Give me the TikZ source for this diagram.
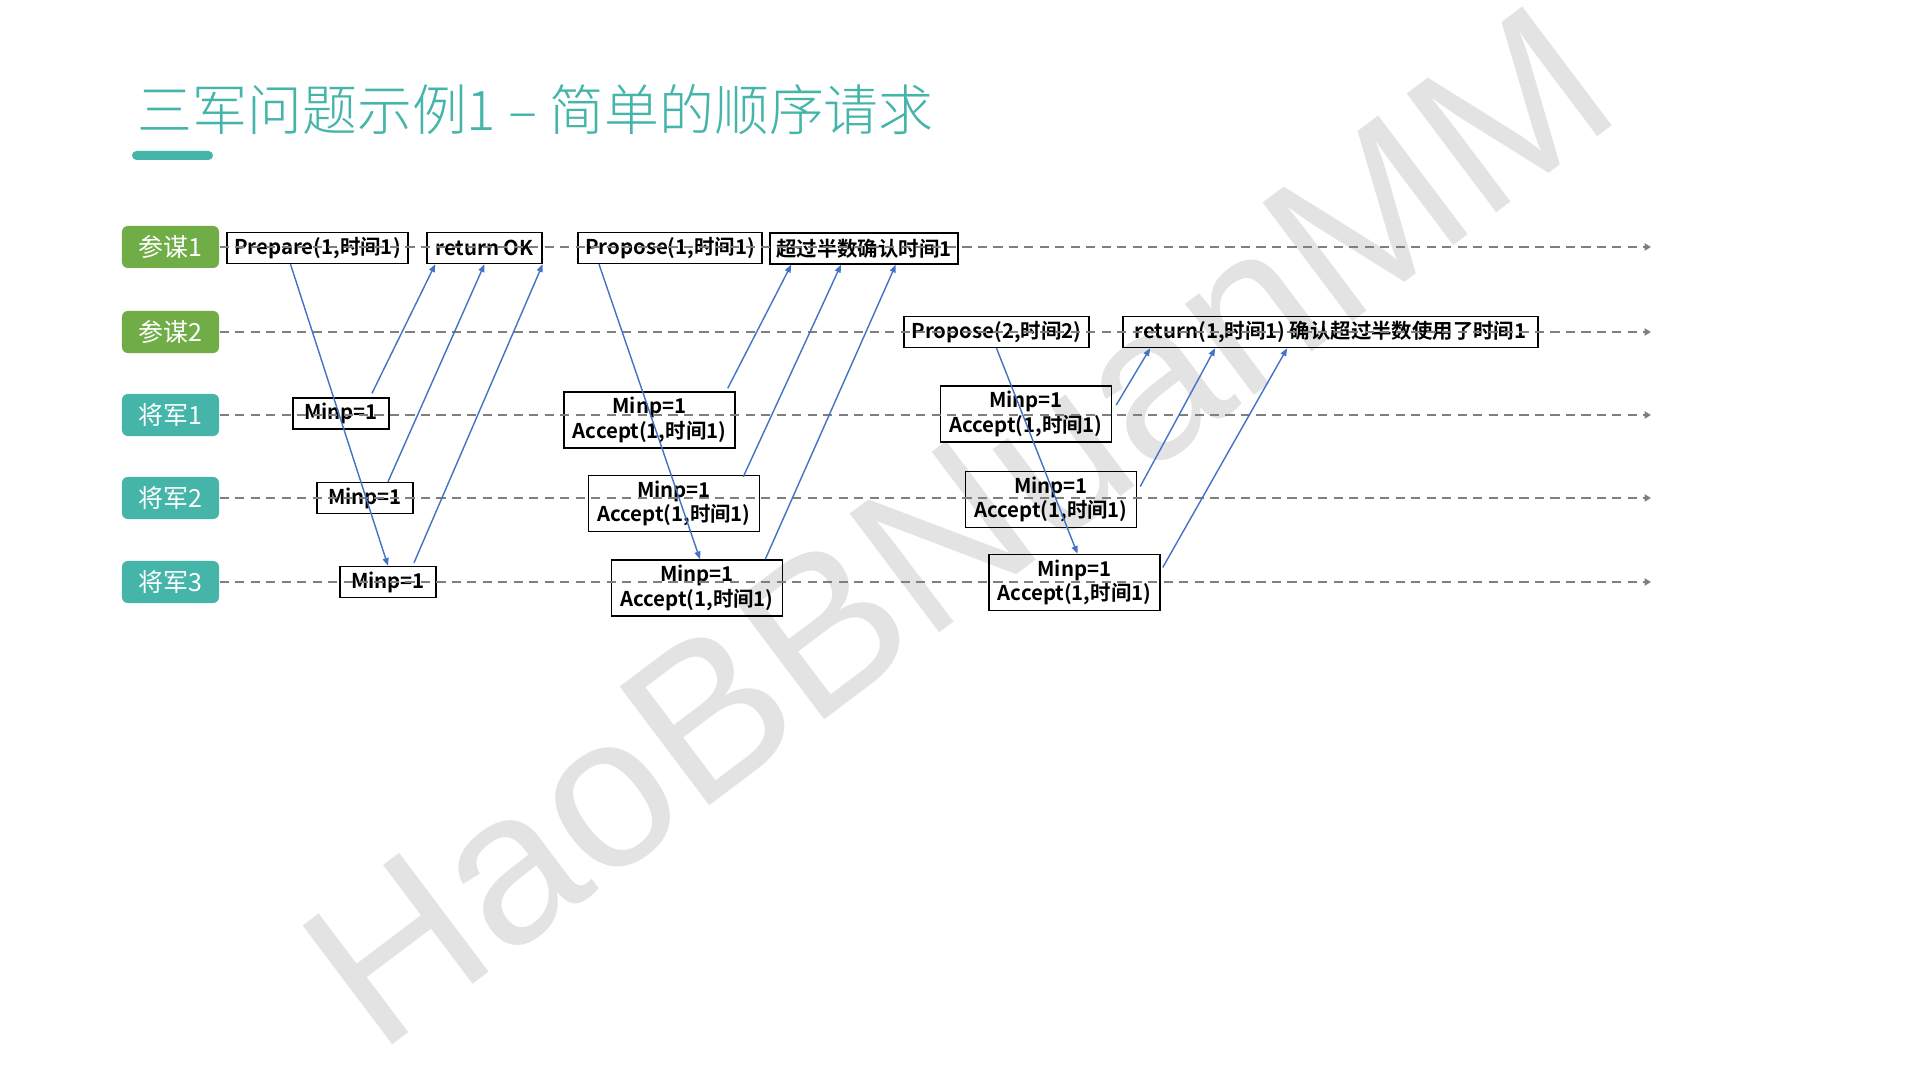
\documentclass[tikz,border=0pt]{standalone}
\usepackage{fontspec}
\setmainfont{Liberation Sans}
\newfontfamily\cjk{Noto Sans CJK SC}[BoldFont={Noto Sans CJK SC Bold}]
\newfontfamily\cjklight{Noto Sans CJK SC Light}
\usetikzlibrary{arrows.meta,positioning,calc}
\definecolor{sgreen}{HTML}{70AD47}
\definecolor{steal}{HTML}{45B5AA}
\definecolor{sblue}{HTML}{4472C4}
\definecolor{sgray}{HTML}{7F7F7F}
\definecolor{wmark}{HTML}{E3E3E3}
\tikzset{
  role/.style={rounded corners=0.6mm,text=white,font=\cjk\fontsize{7.1}{8}\selectfont,minimum width=9.7mm,minimum height=4.2mm,inner sep=0pt},
  msgbox/.style={draw=black,line width=0.4pt,align=center,font=\cjk\bfseries\fontsize{5.8}{7}\selectfont,minimum height=3.1mm,inner sep=1pt},
  accbox/.style={msgbox,minimum width=17.1mm,minimum height=5.6mm},
  minpbox/.style={msgbox,minimum width=9.6mm},
  lane/.style={draw=sgray,line width=0.6pt,dash pattern=on 2.6pt off 1.8pt,-{Triangle[length=1.8pt,width=2pt]}},
  msg/.style={draw=sblue,line width=0.4pt,-{Triangle[length=2.2pt,width=1.7pt]}},
}
\begin{document}
\begin{tikzpicture}[x=0.01cm,y=-0.01cm]
  \fill[white] (0,0) rectangle (1920,1080);
  \useasboundingbox (0,0) rectangle (1920,1080);
  % watermark
  \node[anchor=base west,rotate=37,inner sep=0pt,text=wmark,font=\fontsize{61.5}{62}\selectfont] (wm) at (378,1056) {HaoBBNuanMM};
  % title
  \node[anchor=west,inner sep=0pt,text=steal,font=\cjklight\fontsize{15.6}{17}\selectfont] (title) at (137,110) {三军问题示例1 – 简单的顺序请求};
  \fill[steal,rounded corners=0.45mm] (132,151) rectangle (213,160);
  % roles
  \node[role,fill=sgreen] (p1) at (170.5,247) {参谋1};
  \node[role,fill=sgreen] (p2) at (170.5,332) {参谋2};
  \node[role,fill=steal] (g1) at (170.5,415) {将军1};
  \node[role,fill=steal] (g2) at (170.5,498) {将军2};
  \node[role,fill=steal] (g3) at (170.5,582) {将军3};
  % round 1
  \node[msgbox,minimum width=18.1mm] (prep) at (317.5,248) {Prepare(1,时间1)};
  \node[msgbox,minimum width=11.5mm] (rok) at (484.5,248) {return OK};
  \node[minpbox] (a1) at (341,413.5) {Minp=1};
  \node[minpbox] (a2) at (365,498) {Minp=1};
  \node[minpbox] (a3) at (388,582) {Minp=1};
  % round 2
  \node[msgbox,minimum width=18.4mm] (prop1) at (670,248) {Propose(1,时间1)};
  \node[msgbox,minimum width=18.8mm] (half1) at (864,248.5) {超过半数确认时间1};
  \node[accbox] (b1) at (649.5,420) {Minp=1\\Accept(1,时间1)};
  \node[accbox] (b2) at (674,503.5) {Minp=1\\Accept(1,时间1)};
  \node[accbox] (b3) at (697,588) {Minp=1\\Accept(1,时间1)};
  % round 3
  \node[msgbox,minimum width=18.5mm] (prop2) at (996.5,332) {Propose(2,时间2)};
  \node[msgbox,minimum width=41.5mm] (ret2) at (1330.5,332) {return(1,时间1) 确认超过半数使用了时间1};
  \node[accbox] (c1) at (1026,414) {Minp=1\\Accept(1,时间1)};
  \node[accbox] (c2) at (1051,499.5) {Minp=1\\Accept(1,时间1)};
  \node[accbox] (c3) at (1074.5,582.5) {Minp=1\\Accept(1,时间1)};
  % time lines
  \foreach \n/\y in {p1/247,p2/332,g1/415,g2/498,g3/582} {
    \coordinate (\n-e) at (1651,\y);
    \draw[lane] (\n.east) -- (\n-e);
  }
  % messages
  \draw[msg] ($(prep.south)+(-27,0)$) -- (a3.north);
  \draw[msg] ($(a1.north)+(31,-4)$) -- ($(rok.south west)+(9,0)$);
  \draw[msg] ($(a2.north)+(23,0)$) -- (rok.south);
  \draw[msg] ($(a3.north)+(26,-3)$) -- (rok.south east);
  \draw[msg] ($(prop1.south)+(-71,0)$) -- ($(b3.north)+(3,0)$);
  \draw[msg] ($(b1.north east)+(-8,-3)$) -- ($(half1.south west)+(22,0)$);
  \draw[msg] ($(b2.north east)+(-17,2)$) -- ($(half1.south)+(-23,0)$);
  \draw[msg] ($(b3.north east)+(-18,0)$) -- ($(half1.south east)+(-63,0)$);
  \draw[msg] (prop2.south) -- ($(c3.north)+(3,0)$);
  \draw[msg] ($(c1.east)+(4,-9)$) -- ($(ret2.south west)+(28,0)$);
  \draw[msg] ($(c2.east)+(3,-13)$) -- ($(ret2.south west)+(93,0)$);
  \draw[msg] ($(c3.east)+(2,-15)$) -- ($(ret2.south west)+(165,0)$);
\end{tikzpicture}
\end{document}
